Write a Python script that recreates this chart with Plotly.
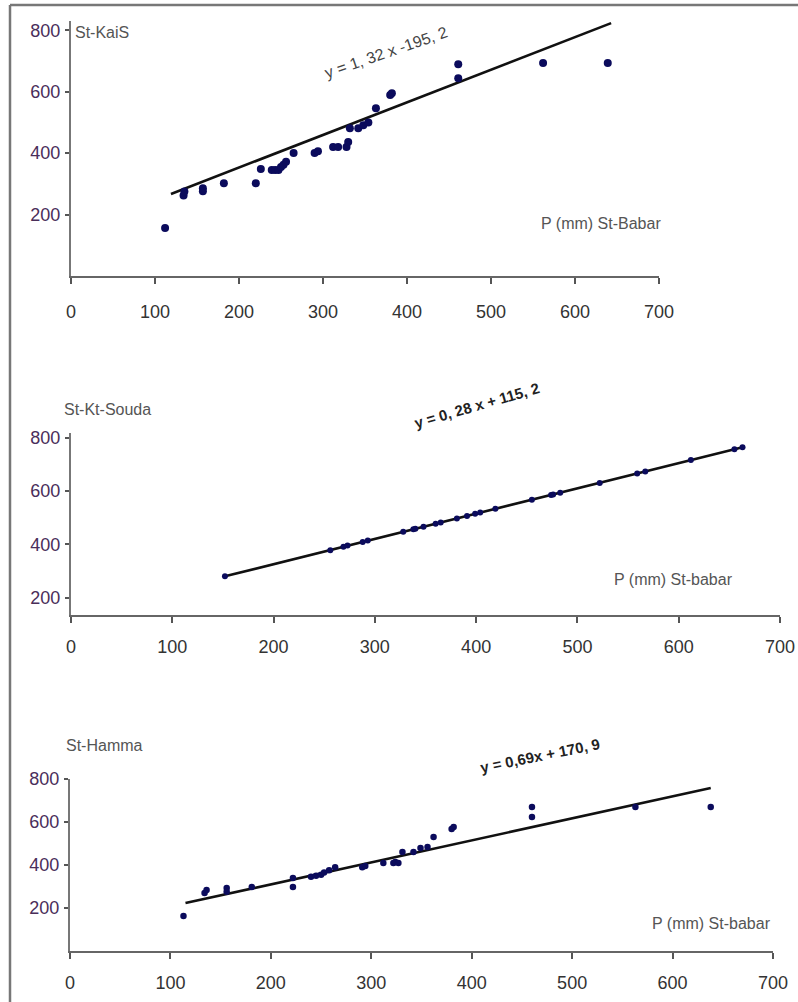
import plotly.graph_objects as go

W, H = 798, 1002

# ---------------- data ----------------
# Panel 1 : St-KaiS vs P (mm) St-Babar
kais_x = [112, 134, 135, 157, 157, 182, 220, 226, 239, 243, 247, 250, 253, 256, 265,
          290, 294, 312, 318, 328, 330, 332, 342, 348, 354, 363, 380, 382, 461, 461, 562, 639]
kais_y = [156, 262, 275, 286, 276, 302, 302, 348, 345, 345, 345, 355, 362, 372, 400,
          400, 406, 420, 420, 420, 436, 481, 481, 491, 500, 546, 589, 595, 689, 644, 693, 693]
kais_trend_x = [119, 643]
kais_trend_y = [267, 823]

# Panel 2 : St-Kt-Souda vs P (mm) St-babar
souda_x = [152, 256, 269, 273, 288, 293, 328, 338, 340, 348, 360, 365, 381, 391, 399,
           404, 419, 455, 474, 476, 483, 522, 559, 567, 612, 655, 663]
souda_y = [280, 378, 391, 395, 409, 414, 447, 456, 458, 466, 477, 482, 497, 506, 514,
           519, 533, 567, 585, 587, 593, 630, 665, 673, 716, 756, 764]
souda_trend_x = [152, 663]
souda_trend_y = [280, 764]

# Panel 3 : St-Hamma vs P (mm) St-babar
hamma_x = [113, 134, 136, 156, 156, 181, 222, 222, 240, 245, 250, 253, 258, 264, 291,
           294, 312, 322, 324, 327, 331, 342, 349, 356, 362, 380, 382, 460, 460, 563, 638]
hamma_y = [163, 270, 284, 293, 275, 298, 298, 340, 345, 350, 355, 365, 375, 390, 390,
           395, 409, 409, 414, 409, 460, 460, 479, 484, 530, 567, 577, 670, 623, 670, 670]
hamma_trend_x = [115, 638]
hamma_trend_y = [223, 758]

x_ticks = [0, 100, 200, 300, 400, 500, 600, 700]
y_ticks = [200, 400, 600, 800]

titles = ["St-KaiS", "St-Kt-Souda", "St-Hamma"]
x_titles = ["P (mm) St-Babar", "P (mm) St-babar", "P (mm) St-babar"]
equations = ["y = 1, 32 x -195, 2", "y = 0, 28 x + 115, 2", "y = 0,69x + 170, 9"]

# ---------------- helpers ----------------
def fx(px):
    return px / W

def fy(py):
    return 1 - py / H

FONT = "Liberation Sans, Arial, sans-serif"
MARK = "#0b0b5c"
TICKCOL = "#4a2e5a"

fig = go.Figure()

panels = [
    (kais_x, kais_y, kais_trend_x, kais_trend_y, "x", "y", 8),
    (souda_x, souda_y, souda_trend_x, souda_trend_y, "x2", "y2", 6),
    (hamma_x, hamma_y, hamma_trend_x, hamma_trend_y, "x3", "y3", 6.5),
]
for xs, ys, tx, ty, xa, ya, ms in panels:
    fig.add_trace(go.Scatter(x=tx, y=ty, mode="lines", xaxis=xa, yaxis=ya,
                             line=dict(color="#111111", width=2.6), showlegend=False,
                             hoverinfo="skip"))
    fig.add_trace(go.Scatter(x=xs, y=ys, mode="markers", xaxis=xa, yaxis=ya,
                             marker=dict(color=MARK, size=ms), showlegend=False))

def xaxis(domain, anchor, standoff):
    return dict(domain=domain, anchor=anchor, range=[0, 700], tickvals=x_ticks,
                showgrid=False, zeroline=False, showline=True, linecolor="#666666",
                linewidth=2, ticks="outside", ticklen=6, tickwidth=1.5,
                tickcolor="#555555", ticklabelstandoff=standoff,
                tickfont=dict(family=FONT, size=18, color="#333333"),
                automargin=False, fixedrange=True)

def yaxis(domain, anchor, rng):
    return dict(domain=domain, anchor=anchor, range=rng, tickvals=y_ticks,
                showgrid=False, zeroline=False, showline=True, linecolor="#777777",
                linewidth=2, ticks="outside", ticklen=4, tickwidth=1.5,
                tickcolor="#555555", ticklabelstandoff=1,
                tickfont=dict(family=FONT, size=18, color=TICKCOL),
                automargin=False, fixedrange=True)

fig.update_layout(
    width=W, height=H,
    margin=dict(l=0, r=0, t=0, b=0),
    paper_bgcolor="white", plot_bgcolor="white",
    showlegend=False,
    xaxis=xaxis([fx(71), fx(659)], "y", 12),
    yaxis=yaxis([fy(276), fy(21)], "x", [0, 830]),
    xaxis2=xaxis([fx(71), fx(780)], "y2", 8),
    yaxis2=yaxis([fy(615), fy(433)], "x2", [135, 817]),
    xaxis3=xaxis([fx(70), fx(773)], "y3", 8),
    yaxis3=yaxis([fy(951), fy(779)], "x3", [0, 800]),
)

ann = []
# panel titles
for t, (px, py) in zip(titles, [(73, 33), (62, 409), (64, 745)]):
    ann.append(dict(text=t, x=fx(px), y=fy(py), xref="paper", yref="paper",
                    xanchor="left", yanchor="middle", showarrow=False,
                    font=dict(family=FONT, size=16, color="#555555")))
# x-axis titles
for t, (px, py) in zip(x_titles, [(539, 223), (612, 579), (650, 923)]):
    ann.append(dict(text=t, x=fx(px), y=fy(py), xref="paper", yref="paper",
                    xanchor="left", yanchor="middle", showarrow=False,
                    font=dict(family=FONT, size=16, color="#555555")))
# equations
eq_specs = [((386, 53), -19, False), ((476, 405), -16, True), ((540, 755), -11.5, True)]
for t, ((px, py), ang, bold) in zip(equations, eq_specs):
    ann.append(dict(text=("<b>%s</b>" % t) if bold else t, x=fx(px), y=fy(py),
                    xref="paper", yref="paper", xanchor="center", yanchor="middle",
                    textangle=ang, showarrow=False,
                    font=dict(family=FONT, size=16 if not bold else 15,
                              color="#222222" if bold else "#444444")))
fig.update_layout(annotations=ann)

# outer frame (top and left edges)
fig.add_shape(type="line", xref="paper", yref="paper", x0=fx(10), x1=1, y0=fy(5), y1=fy(5),
              line=dict(color="#777777", width=2.5))
fig.add_shape(type="line", xref="paper", yref="paper", x0=fx(10), x1=fx(10), y0=0, y1=fy(5),
              line=dict(color="#777777", width=2.5))

fig.write_html("out.html", config={"displayModeBar": False},
               post_script="document.body.style.margin='0';document.body.style.overflow='hidden';")
